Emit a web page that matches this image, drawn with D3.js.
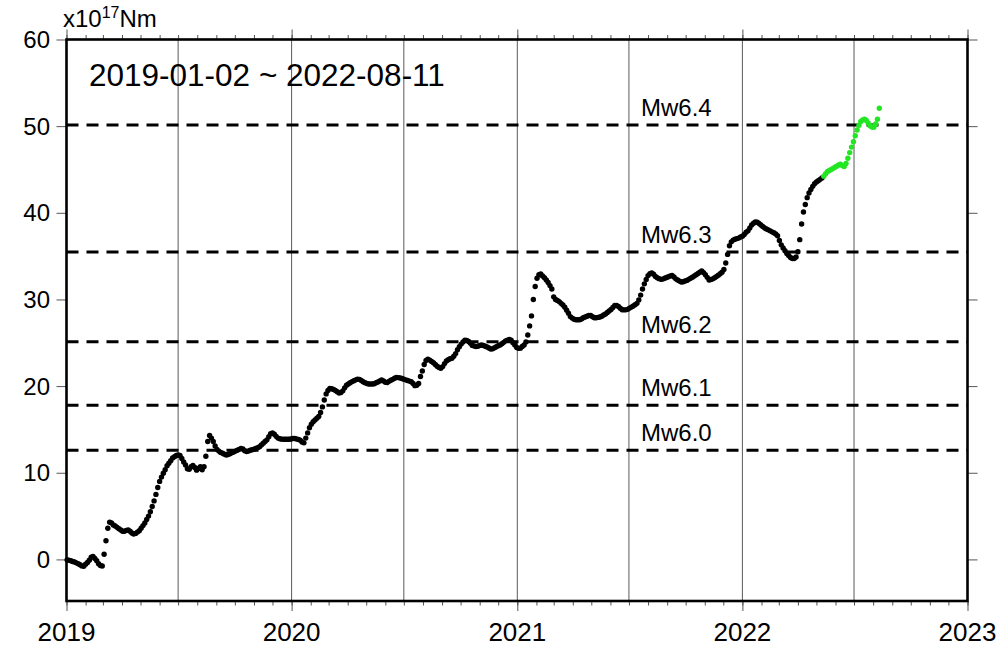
<!DOCTYPE html>
<html>
<head>
<meta charset="utf-8">
<script src="https://cdn.jsdelivr.net/npm/d3@7"></script>
<style>
  html, body { margin: 0; padding: 0; background: #fff; }
  svg { display: block; font-family: "Liberation Sans", Arial, Helvetica, sans-serif; }
</style>
</head>
<body>
<script>
// ---------------- DATA ----------------
// Cumulative moment (x10^17 Nm), one sample every 3 days starting 2019-01-02
const startDate = "2019-01-02";
const stepDays = 3;
const greenFrom = "2022-05-13";
const vals2019 = [-0.05,-0.1,-0.15,-0.24,-0.3,-0.4,-0.5,-0.62,-0.75,-0.8,
  -0.55,-0.35,-0.1,0.25,0.35,0.1,-0.15,-0.5,-0.7,-0.76,
  0.59,2.16,3.59,4.3,4.2,3.97,3.85,3.7,3.55,3.4,
  3.25,3.25,3.35,3.39,3.25,3.05,2.93,3.0,3.15,3.3,
  3.6,3.9,4.2,4.6,5.0,5.5,6.1,6.75,7.5,8.3,
  9.0,9.5,9.94,10.35,10.8,11.1,11.4,11.7,11.85,12.0,
  12.05,12.0,11.65,11.25,10.9,10.45,10.4,10.7,10.85,10.6,
  10.3,10.5,10.7,10.35,10.7,11.9,13.6,14.3,14.0,13.6,
  13.1,12.7,12.5,12.35,12.25,12.15,12.05,12.1,12.2,12.3,
  12.4,12.5,12.6,12.7,12.8,12.75,12.55,12.45,12.5,12.6,
  12.65,12.72,12.8,12.9,13.0,13.2,13.4,13.6,13.8,14.15,
  14.5,14.6,14.45,14.2,14.0,13.92,13.88,13.86,13.86,13.86,
  13.86,13.9];
const vals2020 = [13.95,13.95,13.9,13.85,13.75,13.55,13.45,14.0,14.6,15.2,
  15.6,15.9,16.1,16.3,16.5,16.95,17.6,18.4,19.1,19.5,
  19.72,19.7,19.62,19.5,19.35,19.2,19.25,19.45,19.8,20.1,
  20.25,20.4,20.52,20.62,20.72,20.8,20.78,20.65,20.5,20.4,
  20.3,20.24,20.24,20.24,20.28,20.38,20.48,20.6,20.7,20.6,
  20.45,20.42,20.55,20.68,20.78,20.9,21.0,20.98,20.93,20.88,
  20.8,20.72,20.65,20.58,20.5,20.3,20.05,20.1,20.3,21.1,
  21.75,22.5,22.95,23.1,23.0,22.85,22.7,22.5,22.3,22.15,
  22.05,22.25,22.6,22.9,23.05,23.15,23.22,23.45,23.75,24.2,
  24.55,24.85,25.1,25.3,25.28,25.15,24.95,24.7,24.62,24.56,
  24.6,24.68,24.74,24.68,24.6,24.52,24.4,24.28,24.3,24.42,
  24.55,24.65,24.75,24.88,25.05,25.22,25.3,25.38,25.3,25.0,
  24.75,24.45];
const vals2021 = [24.36,24.38,24.58,24.75,25.1,25.9,26.95,28.1,30.0,31.5,
  32.45,32.85,32.95,32.7,32.5,32.25,31.95,31.6,31.2,30.3,
  30.0,29.88,29.75,29.55,29.36,29.1,28.76,28.4,28.02,27.85,
  27.72,27.66,27.65,27.66,27.75,27.88,27.98,28.06,28.14,28.14,
  28.0,27.88,27.88,27.93,27.97,28.07,28.2,28.32,28.5,28.68,
  28.85,29.08,29.3,29.32,29.2,28.98,28.82,28.8,28.8,28.86,
  29.0,29.12,29.25,29.4,29.55,29.95,30.5,31.2,31.8,32.3,
  32.75,32.98,33.07,32.9,32.65,32.5,32.4,32.32,32.35,32.45,
  32.53,32.62,32.72,32.78,32.6,32.38,32.25,32.12,32.02,32.05,
  32.13,32.2,32.32,32.44,32.56,32.72,32.86,33.0,33.15,33.3,
  33.1,32.85,32.55,32.25,32.3,32.38,32.5,32.65,32.8,32.98,
  33.15,33.45,34.2,35.2,36.2,36.65,36.85,36.95,37.02,37.08,
  37.2,37.3];
const vals2022 = [37.5,37.75,37.92,38.25,38.6,38.8,38.95,38.92,38.76,38.6,
  38.42,38.25,38.13,38.03,37.92,37.8,37.7,37.55,37.35,36.8,
  36.3,35.95,35.62,35.3,35.08,34.85,34.72,34.72,34.9,35.5,
  36.9,38.7,40.1,40.95,41.75,42.28,42.7,43.05,43.35,43.55,
  43.7,43.86,44.03,44.23,44.5,44.76,44.88,45.0,45.13,45.25,
  45.38,45.53,45.6,45.45,45.35,45.7,46.3,46.95,47.58,48.2,
  48.9,49.55,50.1,50.55,50.72,50.8,50.65,50.35,50.05,49.9,
  49.88,50.25,50.8,52.06];

const mwLabels = ["Mw6.0", "Mw6.1", "Mw6.2", "Mw6.3", "Mw6.4"];
const mwMoments = [12.59, 17.78, 25.12, 35.48, 50.12];
const yTicks = [0, 10, 20, 30, 40, 50, 60];
const yearTicks = ["2019", "2020", "2021", "2022", "2023"];
const titleText = "2019-01-02 ~ 2022-08-11";

// ---------------- CHART ----------------
const W = 1001, H = 648;
const L = 66.5, R = 967.5, T = 39.5, B = 601;
const parse = d3.utcParse("%Y-%m-%d");

const allVals = [].concat(vals2019, vals2020, vals2021, vals2022);
const t0 = parse(startDate);
const data = allVals.map((v, i) => ({ date: d3.utcDay.offset(t0, i * stepDays), v }));
const gDate = parse(greenFrom);

const x = d3.scaleUtc().domain([parse("2019-01-01"), parse("2023-01-01")]).range([L, R]);
const y = d3.scaleLinear().domain([-4.8, 60]).range([B, T]);

const svg = d3.select("body").append("svg").attr("width", W).attr("height", H);

// grid every half year
const gridDates = d3.utcMonth.every(6).range(parse("2019-07-01"), parse("2023-01-01"));
svg.append("g").selectAll("line").data(gridDates).join("line")
  .attr("x1", d => x(d)).attr("x2", d => x(d))
  .attr("y1", T).attr("y2", B)
  .attr("stroke", "#5a5a5a").attr("stroke-width", 1);

// axes ticks
const months = d3.utcMonth.range(parse("2019-01-01"), parse("2023-01-02"));
const years = yearTicks.map(s => parse(s + "-01-01"));
function styleAxis(g) {
  g.select(".domain").remove();
  g.selectAll(".tick line").attr("stroke", "#555").attr("stroke-width", 1);
  g.selectAll(".tick text").remove();
}
svg.append("g").attr("transform", `translate(0,${B})`)
  .call(d3.axisBottom(x).tickValues(months).tickSize(4.5).tickFormat("")).call(styleAxis);
svg.append("g").attr("transform", `translate(0,${B})`)
  .call(d3.axisBottom(x).tickValues(years).tickSize(10).tickFormat("")).call(styleAxis);
svg.append("g").attr("transform", `translate(0,${T})`)
  .call(d3.axisTop(x).tickValues(months).tickSize(4.5).tickFormat("")).call(styleAxis);
svg.append("g").attr("transform", `translate(0,${T})`)
  .call(d3.axisTop(x).tickValues(years).tickSize(10).tickFormat("")).call(styleAxis);
svg.append("g").attr("transform", `translate(${L},0)`)
  .call(d3.axisLeft(y).tickValues(yTicks).tickSize(10).tickFormat("")).call(styleAxis);
svg.append("g").attr("transform", `translate(${R},0)`)
  .call(d3.axisRight(y).tickValues(yTicks).tickSize(10).tickFormat("")).call(styleAxis);

// tick labels
svg.append("g").selectAll("text").data(years).join("text")
  .attr("x", d => x(d)).attr("y", 641)
  .attr("text-anchor", "middle").attr("font-size", 26).attr("fill", "#000")
  .text(d => d3.utcFormat("%Y")(d));
svg.append("g").selectAll("text").data(yTicks).join("text")
  .attr("x", 50).attr("y", d => y(d) + 8.5)
  .attr("text-anchor", "end").attr("font-size", 24).attr("fill", "#000")
  .text(d => d);

// Mw reference lines
svg.append("g").selectAll("line").data(mwMoments).join("line")
  .attr("x1", L).attr("x2", R)
  .attr("y1", d => y(d)).attr("y2", d => y(d))
  .attr("stroke", "#000").attr("stroke-width", 3)
  .attr("stroke-dasharray", "12,8");
svg.append("g").selectAll("text").data(mwMoments).join("text")
  .attr("x", 641).attr("y", (d) => y(d) - 9)
  .attr("font-size", 24).attr("fill", "#000")
  .text((d, i) => mwLabels[i]);

// frame
svg.append("rect").attr("x", L).attr("y", T).attr("width", R - L).attr("height", B - T)
  .attr("fill", "none").attr("stroke", "#000").attr("stroke-width", 2.6);

// dots
const blk = data.filter(d => d.date < gDate);
const grn = data.filter(d => d.date >= gDate);
svg.append("g").selectAll("circle").data(blk).join("circle")
  .attr("cx", d => x(d.date)).attr("cy", d => y(d.v)).attr("r", 2.7).attr("fill", "#000");
svg.append("g").selectAll("circle").data(grn).join("circle")
  .attr("cx", d => x(d.date)).attr("cy", d => y(d.v)).attr("r", 2.7).attr("fill", "#22e622");

// title & unit label
svg.append("text").attr("x", 89).attr("y", 86)
  .attr("font-size", 31.5).attr("fill", "#000").text(titleText);
const unit = svg.append("text").attr("x", 63).attr("y", 27).attr("font-size", 24).attr("fill", "#000");
unit.append("tspan").text("x10");
unit.append("tspan").attr("font-size", 16).attr("dy", -9).text("17");
unit.append("tspan").attr("dy", 9).text("Nm");
</script>
</body>
</html>
